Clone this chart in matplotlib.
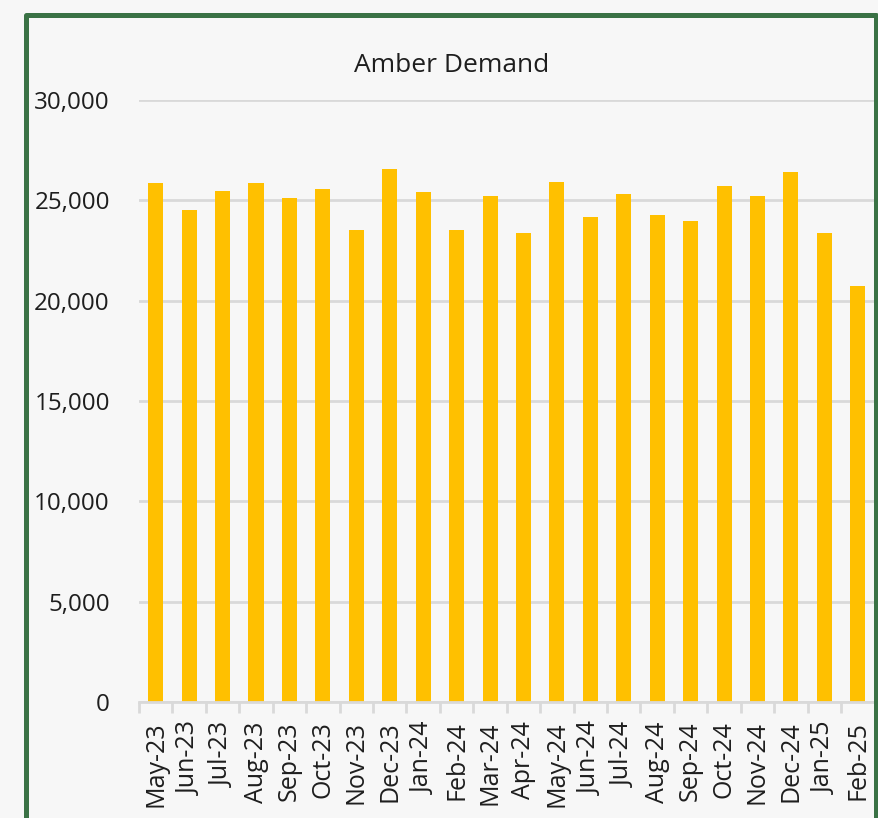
import matplotlib.pyplot as plt
import matplotlib.patches as patches
import numpy as np

months = ['May-23', 'Jun-23', 'Jul-23', 'Aug-23', 'Sep-23', 'Oct-23', 'Nov-23', 'Dec-23',
          'Jan-24', 'Feb-24', 'Mar-24', 'Apr-24', 'May-24', 'Jun-24', 'Jul-24', 'Aug-24',
          'Sep-24', 'Oct-24', 'Nov-24', 'Dec-24', 'Jan-25', 'Feb-25']
demand = [25850, 24500, 25460, 25850, 25130, 25575, 23530, 26540,
          25395, 23530, 25195, 23350, 25910, 24180, 25330, 24250,
          23980, 25725, 25195, 26420, 23350, 20730]

W, H = 879, 818
bg = '#F7F7F7'
txt = '#1E1E1E'
plt.rcParams['font.family'] = ['Open Sans', 'DejaVu Sans']

fig = plt.figure(figsize=(W / 100, H / 100), dpi=100, facecolor=bg)
ax = fig.add_axes([139 / W, (H - 702) / H, (874.5 - 139) / W, 602 / H])
ax.set_facecolor(bg)

x = np.arange(len(months))
ax.bar(x, demand, width=0.45, color='#FFC000', zorder=3)

ax.set_xlim(-0.5, len(months) - 0.5)
ax.set_ylim(0, 30000)
ax.set_yticks(np.arange(0, 30001, 5000))
ax.set_yticklabels([f'{v:,}' for v in range(0, 30001, 5000)])
ax.yaxis.grid(True, color='#D9D9D9', linewidth=2, zorder=0)
ax.tick_params(axis='y', length=0, pad=21, labelsize=17.4, labelcolor=txt)

# category boundary ticks
ax.set_xticks(np.arange(-0.5, len(months) + 0.5, 1), minor=False)
ax.set_xticklabels([])
ax.tick_params(axis='x', which='major', length=8, width=2, color='#D9D9D9')
ax.set_xticks(x, minor=True)
ax.set_xticklabels(months, minor=True, rotation=90)
ax.tick_params(axis='x', which='minor', length=0, pad=14, labelsize=18, labelcolor=txt)

for side in ['top', 'right', 'left']:
    ax.spines[side].set_visible(False)
ax.spines['bottom'].set_color('#D9D9D9')
ax.spines['bottom'].set_linewidth(2)
ax.spines['bottom'].set_zorder(4)

fig.text(452 / W, (H - 65) / H, 'Amber Demand', ha='center', va='center',
         fontsize=19, color=txt)

# green chart frame (bottom edge is outside the picture)
frame = patches.Rectangle((26.5 / W, -0.1), (876.5 - 26.5) / W, (H - 15.5) / H + 0.1,
                          transform=fig.transFigure, fill=False, edgecolor='#3A7245',
                          linewidth=3.6, joinstyle='round', zorder=10)
fig.patches.append(frame)

fig.savefig('out.png', dpi=100, facecolor=bg)
